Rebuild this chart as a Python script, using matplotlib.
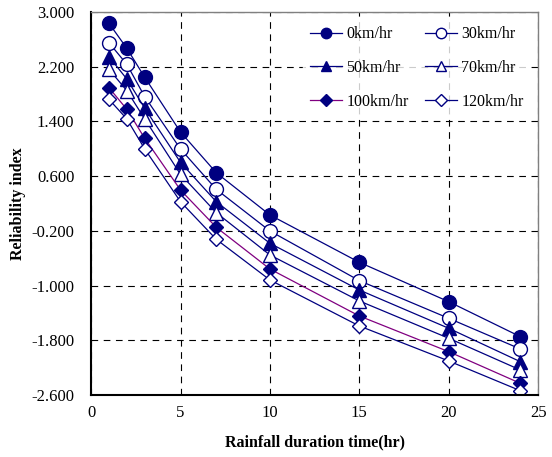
import matplotlib.pyplot as plt

plt.rcParams['font.family'] = ['Liberation Serif', 'DejaVu Serif']

# rainfall duration (hr)
t = [1, 2, 3, 5, 7, 10, 15, 20, 24]

v0 = [2.835, 2.469, 2.045, 1.245, 0.650, 0.032, -0.660, -1.236, -1.747]
v30 = [2.551, 2.235, 1.762, 0.997, 0.407, -0.202, -0.928, -1.479, -1.927]
v50 = [2.347, 2.020, 1.592, 0.802, 0.226, -0.382, -1.065, -1.625, -2.113]
v70 = [2.162, 1.850, 1.436, 0.627, 0.066, -0.553, -1.225, -1.771, -2.234]
v100 = [1.893, 1.577, 1.153, 0.397, -0.148, -0.758, -1.445, -1.967, -2.429]
v120 = [1.723, 1.436, 0.997, 0.226, -0.324, -0.918, -1.591, -2.103, -2.537]

labels = ["0km/hr", "30km/hr", "50km/hr", "70km/hr", "100km/hr", "120km/hr"]
yticks = [3.0, 2.2, 1.4, 0.6, -0.2, -1.0, -1.8, -2.6]

navy = "#000080"

fig = plt.figure(figsize=(5.52, 4.57), dpi=100)
ax = fig.add_axes([0.165, 0.1357, 0.81, 0.838])

h0, = ax.plot(t, v0, "-o", color=navy, mfc=navy, mec=navy, ms=10, lw=0.9, label=labels[0])
h30, = ax.plot(t, v30, "-o", color=navy, mfc="white", mec=navy, ms=10, lw=0.9, label=labels[1])
h50, = ax.plot(t, v50, "-^", color=navy, mfc=navy, mec=navy, ms=10, lw=0.9, label=labels[2])
h70, = ax.plot(t, v70, "-^", color=navy, mfc="white", mec=navy, ms=10, lw=0.9, label=labels[3])
h100, = ax.plot(t, v100, "-D", color="#800080", mfc=navy, mec=navy, ms=7.5, lw=0.9, label=labels[4])
h120, = ax.plot(t, v120, "-D", color=navy, mfc="white", mec=navy, ms=7.5, lw=0.9, label=labels[5])

ax.set_xlim(0, 25)
ax.set_ylim(-2.6, 3.0)
ax.set_xticks([0, 5, 10, 15, 20, 25])
ax.set_yticks(yticks)
ax.set_yticklabels(["%.3f" % v for v in yticks])
ax.tick_params(labelsize=12, length=0)
ax.tick_params(axis="y", pad=12)
ax.tick_params(axis="x", pad=7)
ax.grid(True, color="black", linestyle=(0, (6, 5)), lw=0.8)

for s in ["left", "bottom"]:
    ax.spines[s].set_color("black")
    ax.spines[s].set_linewidth(1.5)
for s in ["top", "right"]:
    ax.spines[s].set_color("#808080")
    ax.spines[s].set_linewidth(1.0)

ax.set_xlabel("Rainfall duration time(hr)", fontsize=11.5, fontweight="bold", labelpad=10)
ax.set_ylabel("Reliability index", fontsize=11.5, fontweight="bold", labelpad=4)

# row-wise order like the original legend
hs = [h0, h50, h100, h30, h70, h120]
leg = ax.legend(hs, [h.get_label() for h in hs], ncol=2, loc="upper right",
                frameon=True, fontsize=11.5, handlelength=2.0, columnspacing=1.0,
                handletextpad=0.3, labelspacing=1.1, borderaxespad=0.5,
                fancybox=False, markerscale=0.75)
leg.get_frame().set_facecolor("white")
leg.get_frame().set_edgecolor("white")

fig.savefig("out.png", dpi=100)
